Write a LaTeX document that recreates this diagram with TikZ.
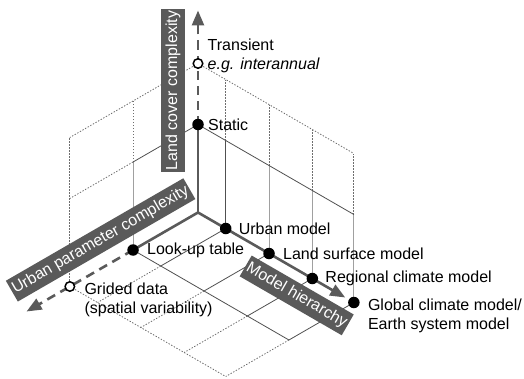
\documentclass[tikz,border=0pt]{standalone}
\usepackage{fontspec}
\setmainfont{Liberation Sans}
\usetikzlibrary{arrows.meta,positioning}

\definecolor{axisgray}{HTML}{5A5A5A}
\definecolor{linegray}{HTML}{505050}
\definecolor{lightline}{HTML}{A0A0A0}
\definecolor{dotgray}{HTML}{6E6E6E}

\tikzset{
  axisline/.style={draw=axisgray,line width=2.6pt},
  axisdash/.style={axisline,dash pattern=on 9pt off 6pt},
  axisarrow/.style={-{Triangle[length=15pt,width=12pt]}},
  gridline/.style={draw=linegray,line width=0.8pt},
  gridlight/.style={draw=lightline,line width=1pt},
  griddot/.style={draw=dotgray,line width=0.8pt,dash pattern=on 1.4pt off 1.6pt},
  fulldot/.style={circle,fill=black,minimum size=11.5pt,inner sep=0pt},
  opendot/.style={circle,draw=black,fill=white,line width=1.5pt,minimum size=9.5pt,inner sep=0pt},
  lbl/.style={inner sep=1pt,align=left,font=\fontsize{16}{19}\selectfont},
  axisbox/.style={fill=axisgray,text=white,inner xsep=2pt,inner ysep=4.25pt,
    text height=12pt,text depth=3.5pt,font=\fontsize{16}{19}\selectfont}
}

\begin{document}
\begin{tikzpicture}[x={(0.866pt,-0.5pt)},y={(-0.866pt,-0.5pt)},z={(0pt,1pt)}]
\useasboundingbox (-198pt,-165.5pt) rectangle (326pt,212.5pt);

% floor
\foreach \m in {32,82,132,180}{
  \draw[gridline] (\m,0,0)--(\m,75,0);
  \draw[griddot] (\m,75,0)--(\m,148,0);
}
\draw[gridline] (0,75,0)--(180,75,0);
\draw[griddot] (0,148,0)--(180,148,0);

% right wall
\draw[gridline] (32,0,0)--(32,0,88);
\foreach \m in {82,132,180} \draw[gridlight] (\m,0,0)--(\m,0,88);
\foreach \m in {32,82,132,180} \draw[griddot] (\m,0,88)--(\m,0,149);
\draw[gridline] (0,0,88)--(180,0,88);
\draw[griddot] (0,0,149)--(180,0,149);

% left wall
\draw[gridlight] (0,75,0)--(0,75,88);
\draw[griddot] (0,75,88)--(0,75,149);
\draw[griddot] (0,148,0)--(0,148,149);
\draw[gridline] (0,0,88)--(0,75,88);
\draw[griddot] (0,75,88)--(0,148,88);
\draw[griddot] (0,0,149)--(0,148,149);

% axes
\coordinate (O) at (0,0,0);
\coordinate (zs) at (0,0,88);
\coordinate (zt) at (0,0,149);
\coordinate (ztop) at (0,0,202);
\coordinate (yl) at (0,75,0);
\coordinate (yg) at (0,148,0);
\coordinate (ytip) at (0,198,0);
\coordinate (xtip) at (170,0,0);

\draw[axisline] (O)--(zs);
\draw[axisdash,axisarrow] (zs)--(ztop);
\draw[axisline] (O)--(yl);
\draw[axisdash,axisarrow] (yl)--(ytip);
\draw[axisline,axisarrow] (O)--(xtip);

% points
\node[fulldot] (static) at (zs) {};
\node[opendot] (trans) at (zt) {};
\node[fulldot] (lookup) at (yl) {};
\node[opendot] (grided) at (yg) {};
\node[fulldot] (urbm) at (32,0,0) {};
\node[fulldot] (lsm) at (82,0,0) {};
\node[fulldot] (rcm) at (132,0,0) {};
\node[fulldot] (gcm) at (180,0,0) {};

\node[lbl,right=3pt of static] {Static};
\node[lbl,right=3pt of trans,yshift=8pt] {Transient\\\textit{e.g. interannual}};
\node[lbl,right=7pt of lookup] {Look-up table};
\node[lbl,right=8pt of grided,yshift=-13pt] {Grided data\\(spatial variability)};
\node[lbl,right=6pt of urbm] {Urban model};
\node[lbl,right=7pt of lsm] {Land surface model};
\node[lbl,right=6pt of rcm] {Regional climate model};
\node[lbl,right=7pt of gcm,yshift=-13pt] {Global climate model/\\Earth system model};

% axis names
\node[axisbox,rotate=90] (lcc) at (-25pt,122pt) {Land cover complexity};
\node[axisbox,rotate=30] (upc) at (-97.4pt,-27.4pt) {Urban parameter complexity};
\node[axisbox,rotate=-30] (mh) at (98.7pt,-82.9pt) {Model hierarchy};
\end{tikzpicture}
\end{document}
